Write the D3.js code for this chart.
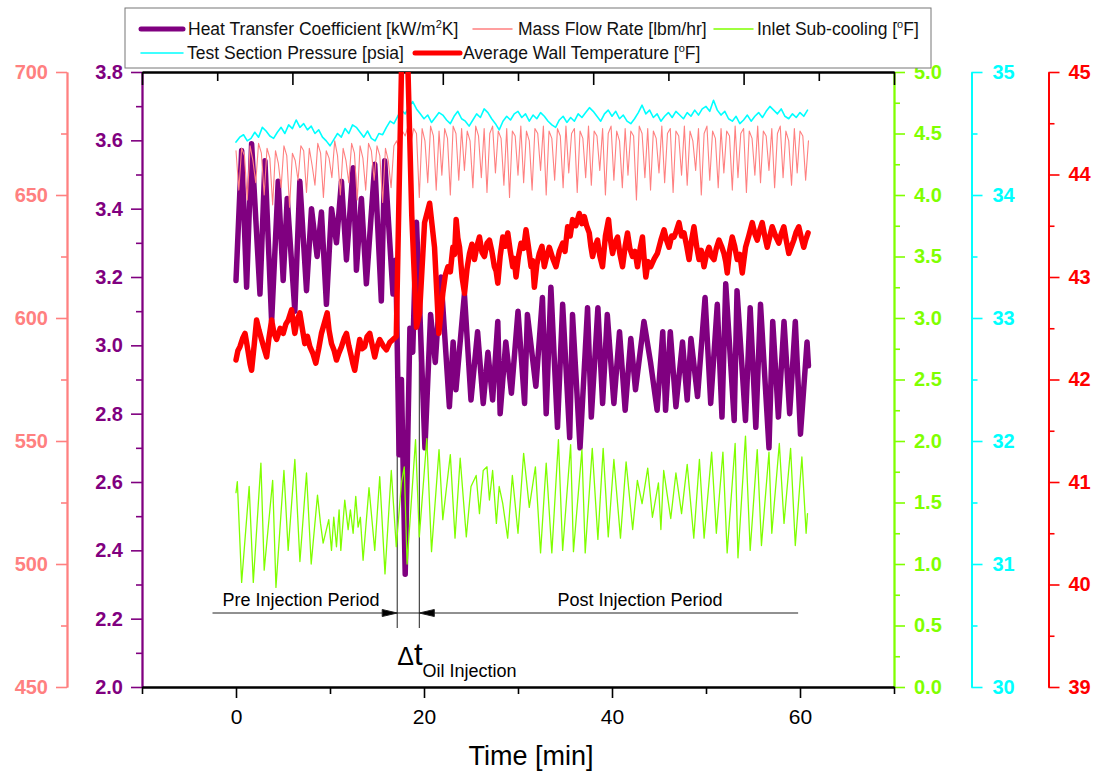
<!DOCTYPE html>
<html>
<head>
<meta charset="utf-8">
<script src="https://cdn.jsdelivr.net/npm/d3@7"></script>
<style>
  body { margin: 0; background: #fff; }
  text { font-family: 'Liberation Sans', Arial, sans-serif; }
</style>
</head>
<body>
<svg id="viz"></svg>
<script>
// Heat transfer coefficient [kW/m2K], read at peaks and troughs
const htcTime = [0, 0.6, 1.13, 1.66, 2.55, 3.08, 3.79, 4.49, 5.02, 5.45, 6.26, 6.79, 7.5, 8.03, 8.63, 9.09, 9.62, 10.16, 10.69, 11.22,
  11.75, 12.46, 12.81, 13.34, 13.87, 14.76, 15.46, 15.82, 16.7, 17.0, 17.35, 17.6, 18.0, 18.5, 18.8, 19.2, 20.1, 20.7, 21.2, 21.8,
  22.7, 23.1, 23.4, 24.3, 25.0, 25.7, 26.3, 26.8, 27.3, 27.85, 28.1, 28.7, 29.3, 30.0, 30.7, 31.0, 31.9, 32.6, 33.0, 33.5,
  34.2, 34.75, 35.5, 35.8, 36.6, 37.4, 37.8, 38.5, 39.0, 39.5, 40.2, 40.8, 41.4, 42.0, 42.5, 43.4, 44.1, 44.8, 45.4, 45.7,
  46.2, 46.8, 47.5, 48.0, 48.4, 49.1, 49.9, 50.5, 51.2, 51.7, 52.1, 53.0, 53.3, 54.2, 54.7, 55.3, 55.8, 56.7, 57.1, 57.7,
  58.3, 58.9, 59.5, 60.05, 60.75, 60.9]
const htcValue = [3.19, 3.57, 3.17, 3.59, 3.15, 3.54, 3.07, 3.48, 3.19, 3.43, 3.10, 3.48, 3.16, 3.40, 3.26, 3.39, 3.12, 3.40, 3.30, 3.48,
  3.25, 3.52, 3.22, 3.43, 3.18, 3.53, 3.13, 3.54, 3.15, 3.25, 2.68, 2.90, 2.33, 3.05, 2.98, 3.36, 2.70, 3.09, 2.95, 3.20,
  2.82, 3.01, 2.87, 3.15, 2.84, 3.04, 2.83, 2.98, 2.84, 3.07, 2.80, 3.01, 2.86, 3.10, 2.83, 3.09, 2.88, 3.14, 2.80, 3.17,
  2.76, 3.12, 2.73, 3.09, 2.70, 3.11, 2.79, 3.11, 2.83, 3.09, 2.83, 3.04, 2.81, 3.02, 2.87, 3.07, 2.95, 2.81, 3.04, 2.81,
  3.04, 2.82, 3.01, 2.84, 3.02, 2.85, 3.14, 2.83, 3.12, 2.79, 3.18, 2.78, 3.16, 2.78, 3.11, 2.76, 3.12, 2.70, 3.07, 2.79,
  3.07, 2.80, 3.07, 2.74, 3.01, 2.94]

// Mass flow rate [lbm/hr], one reading every 0.3 min
const flowStep = 0.3
const flowValue = [668, 652, 669, 666, 648, 670, 664, 655, 671, 667, 650, 669, 665, 646, 668, 663, 653, 670, 666, 645,
  667, 664, 656, 670, 668, 651, 669, 662, 654, 671, 667, 649, 668, 665, 657, 672, 666, 650, 669, 664,
  655, 671, 667, 648, 670, 665, 652, 671, 668, 656, 670, 666, 647, 669, 664, 653, 670,
  672, 668, 676, 674, 678, 671, 677,
  675, 649, 677, 672, 655, 678, 674, 652, 676, 658, 677, 673, 650, 678, 675, 656, 677, 660, 676, 672,
  653, 678, 674, 657, 677, 651, 675, 678, 659, 676, 673, 654, 677, 649, 676, 674, 658, 678, 655, 676,
  672, 652, 677, 675, 660, 678, 650, 676, 673, 656, 677, 674, 653, 678, 659, 675, 677, 651, 676, 673,
  657, 678, 654, 676, 674, 660, 677, 650, 675, 678, 656, 676, 672, 653, 677, 658, 676, 674, 648, 678,
  675, 657, 677, 652, 676, 673, 659, 678, 655, 675, 677, 651, 676, 674, 658, 678, 654, 676, 672, 660,
  677, 650, 675, 678, 656, 676, 673, 653, 677, 659, 676, 674, 652, 678, 657, 675, 677, 651, 676, 673,
  658, 678, 655, 676, 674, 660, 677, 653, 675, 678, 657, 676, 672, 654, 677, 659, 676, 674, 656, 672]

// Inlet sub-cooling [F], read at peaks and troughs
const subTime = [0, 0.14, 0.6, 1.4, 1.84, 2.65, 3.0, 3.9, 4.25, 5.1, 5.55, 6.26, 6.8, 7.5, 8.0, 8.67, 8.99, 9.27, 9.87, 10.16,
  10.4, 10.69, 10.97, 11.15, 11.57, 11.93, 12.17, 12.46, 12.74, 12.99, 13.23, 13.52, 14.15, 14.76, 15.29, 15.85, 16.52, 17.05, 17.6, 17.9,
  18.2, 19.1, 19.5, 20.3, 20.8, 21.6, 22.0, 22.8, 23.3, 23.85, 24.5, 25.0, 25.55, 25.9, 26.3, 26.7, 26.96, 27.3, 27.7, 28.0,
  28.38, 28.9, 29.4, 30.0, 30.6, 31.2, 31.85, 32.4, 33.0, 33.6, 34.3, 34.75, 35.6, 35.9, 36.8, 37.15, 37.9, 38.5, 39.06, 39.6,
  40.2, 40.9, 41.5, 42.2, 42.7, 43.2, 43.8, 44.3, 44.94, 45.2, 45.5, 45.9, 46.25, 46.8, 47.4, 48.0, 48.7, 49.3, 49.8, 50.6,
  51.1, 51.8, 52.25, 53.1, 53.4, 54.2, 54.7, 55.45, 55.9, 56.7, 57.0, 57.8, 58.3, 59.0, 59.5, 60.2, 60.65, 60.8]
const subValue = [1.58, 1.67, 0.85, 1.63, 0.85, 1.82, 0.95, 1.68, 0.81, 1.76, 1.11, 1.85, 1.02, 1.74, 1.00, 1.56, 1.33, 1.17, 1.36, 1.11,
  1.38, 1.14, 1.44, 1.11, 1.52, 1.28, 1.44, 1.25, 1.55, 1.30, 1.38, 1.03, 1.62, 1.11, 1.71, 0.92, 1.76, 1.14, 1.66, 1.79,
  1.00, 2.01, 1.22, 2.02, 1.10, 1.93, 1.36, 1.89, 1.21, 1.86, 1.22, 1.63, 1.72, 1.41, 1.76, 1.79, 1.52, 1.76, 1.33, 1.63,
  1.49, 1.21, 1.72, 1.25, 1.90, 1.46, 1.79, 1.09, 1.82, 1.09, 2.01, 1.11, 1.97, 1.10, 1.93, 1.09, 1.94, 1.20, 1.94, 1.22,
  1.85, 1.21, 1.83, 1.28, 1.68, 1.49, 1.78, 1.38, 1.66, 1.28, 1.76, 1.55, 1.37, 1.74, 1.41, 1.81, 1.21, 1.85, 1.21, 1.91,
  1.25, 1.91, 1.09, 1.98, 1.05, 2.04, 1.11, 1.93, 1.15, 1.91, 1.25, 1.98, 1.33, 1.94, 1.15, 1.87, 1.25, 1.41]

// Test section pressure [psia], one reading every 0.4 min
const pressStep = 0.4
const pressValue = [34.43, 34.47, 34.49, 34.44, 34.46, 34.51, 34.47, 34.55, 34.52, 34.48,
  34.46, 34.51, 34.55, 34.50, 34.57, 34.54, 34.61, 34.55, 34.58, 34.53,
  34.56, 34.50, 34.53, 34.47, 34.44, 34.40, 34.45, 34.50, 34.47, 34.54,
  34.50, 34.57, 34.55, 34.51, 34.47, 34.52, 34.46, 34.44, 34.50, 34.49,
  34.55, 34.60, 34.58, 34.64, 34.69, 34.66, 34.72, 34.76, 34.70, 34.66,
  34.62, 34.65, 34.59, 34.63, 34.67, 34.65, 34.61, 34.58, 34.64, 34.68,
  34.62, 34.60, 34.56, 34.61, 34.66, 34.63, 34.70, 34.67, 34.62, 34.58,
  34.53, 34.60, 34.64, 34.61, 34.66, 34.68, 34.63, 34.66, 34.60, 34.65,
  34.62, 34.67, 34.64, 34.60, 34.57, 34.55, 34.61, 34.64, 34.59, 34.63,
  34.60, 34.66, 34.63, 34.67, 34.71, 34.68, 34.64, 34.60, 34.66, 34.69,
  34.64, 34.68, 34.62, 34.65, 34.60, 34.58, 34.62, 34.67, 34.73, 34.66,
  34.69, 34.63, 34.66, 34.60, 34.64, 34.67, 34.63, 34.68, 34.65, 34.62,
  34.67, 34.64, 34.69, 34.65, 34.70, 34.72, 34.68, 34.77, 34.69, 34.65,
  34.68, 34.62, 34.60, 34.64, 34.58, 34.61, 34.65, 34.60, 34.64, 34.67,
  34.63, 34.68, 34.72, 34.69, 34.66, 34.70, 34.64, 34.62, 34.66, 34.63,
  34.67, 34.64, 34.69]

// Average wall temperature [F], [time, value]
const tempReadings = [
  [0, 42.19], [0.2, 42.28], [0.42, 42.32], [0.7, 42.40], [0.96, 42.45], [1.15, 42.35], [1.31, 42.26], [1.5, 42.15], [1.66, 42.09], [1.95, 42.35],
  [2.19, 42.58], [2.45, 42.48], [2.72, 42.39], [3.0, 42.30], [3.26, 42.22], [3.5, 42.40], [3.79, 42.58], [4.05, 42.45], [4.32, 42.39], [4.7, 42.50],
  [5.02, 42.45], [5.3, 42.54], [5.56, 42.58], [5.91, 42.68], [6.1, 42.55], [6.26, 42.45], [6.5, 42.58], [6.79, 42.65], [7.05, 42.50], [7.32, 42.35],
  [7.6, 42.42], [7.86, 42.32], [8.2, 42.25], [8.49, 42.16], [8.8, 42.30], [9.09, 42.45], [9.4, 42.55], [9.7, 42.65], [9.9, 42.48], [10.16, 42.35],
  [10.45, 42.28], [10.69, 42.19], [10.95, 42.26], [11.22, 42.32], [11.5, 42.40], [11.75, 42.45], [12.0, 42.33], [12.28, 42.22], [12.45, 42.15], [12.63, 42.09],
  [12.9, 42.25], [13.16, 42.39], [13.4, 42.30], [13.69, 42.32], [13.95, 42.42], [14.23, 42.45], [14.5, 42.33], [14.76, 42.22], [15.0, 42.32], [15.29, 42.39],
  [15.65, 42.33], [16.0, 42.29], [16.35, 42.36], [16.7, 42.39], [17.05, 42.42],
  [17.6, 45.0], [17.85, 45.6], [18.3, 45.0], [18.7, 43.6], [19.2, 42.51], [19.53, 42.65], [20.06, 43.53], [20.6, 43.72], [21.12, 43.29], [21.58, 42.45],
  [22.0, 42.84], [22.27, 43.02], [22.54, 43.10], [22.8, 43.05], [23.07, 43.29], [23.25, 43.22], [23.42, 43.56], [23.6, 43.38], [23.78, 43.29], [24.05, 43.0],
  [24.31, 42.84], [24.58, 43.08], [24.84, 43.23], [25.1, 43.32], [25.37, 43.17], [25.63, 43.30], [25.9, 43.39], [26.17, 43.24], [26.43, 43.20], [26.7, 43.33],
  [26.96, 43.36], [27.22, 43.25], [27.49, 43.10], [27.67, 43.06], [27.85, 42.94], [28.1, 43.20], [28.38, 43.39], [28.65, 43.30], [28.91, 43.43], [29.18, 43.25],
  [29.44, 43.10], [29.6, 43.18], [29.79, 43.00], [30.05, 43.20], [30.32, 43.33], [30.6, 43.28], [30.85, 43.46], [31.1, 43.30], [31.39, 43.10], [31.55, 43.16],
  [31.74, 42.90], [32.0, 43.12], [32.27, 43.23], [32.55, 43.30], [32.8, 43.10], [33.05, 43.20], [33.33, 43.29], [33.7, 43.18], [34.04, 43.10], [34.4, 43.25],
  [34.75, 43.33], [35.0, 43.25], [35.28, 43.49], [35.55, 43.40], [35.81, 43.56], [36.15, 43.50], [36.52, 43.62], [36.8, 43.52], [37.05, 43.59], [37.3, 43.50],
  [37.58, 43.43], [37.75, 43.30], [37.93, 43.20], [38.2, 43.30], [38.46, 43.36], [38.72, 43.20], [38.99, 43.10], [39.3, 43.40], [39.63, 43.56], [39.85, 43.35],
  [40.06, 43.23], [40.3, 43.33], [40.59, 43.39], [40.85, 43.22], [41.12, 43.10], [41.4, 43.30], [41.65, 43.43], [41.9, 43.28], [42.18, 43.20], [42.45, 43.25],
  [42.71, 43.10], [43.0, 43.28], [43.24, 43.39], [43.4, 43.20], [43.6, 43.00], [43.85, 43.15], [44.12, 43.10], [44.5, 43.18], [44.83, 43.23], [45.2, 43.36],
  [45.54, 43.46], [45.8, 43.36], [46.07, 43.29], [46.35, 43.40], [46.6, 43.39], [46.85, 43.45], [47.13, 43.53], [47.4, 43.40], [47.66, 43.43], [47.95, 43.30],
  [48.2, 43.17], [48.45, 43.35], [48.72, 43.49], [49.0, 43.30], [49.26, 43.17], [49.5, 43.26], [49.79, 43.10], [50.05, 43.22], [50.32, 43.29], [50.6, 43.20],
  [50.85, 43.17], [51.1, 43.28], [51.38, 43.36], [51.65, 43.30], [51.91, 43.23], [52.1, 43.15], [52.26, 43.04], [52.5, 43.25], [52.79, 43.39], [53.05, 43.30],
  [53.32, 43.17], [53.6, 43.22], [53.86, 43.04], [54.05, 43.18], [54.21, 43.29], [54.55, 43.40], [54.92, 43.53], [55.2, 43.42], [55.45, 43.36], [55.7, 43.45],
  [55.98, 43.53], [56.25, 43.40], [56.51, 43.29], [56.8, 43.40], [57.04, 43.49], [57.4, 43.40], [57.75, 43.33], [58.0, 43.42], [58.28, 43.49], [58.55, 43.35],
  [58.81, 43.23], [59.1, 43.30], [59.34, 43.36], [59.6, 43.44], [59.87, 43.49], [60.15, 43.38], [60.4, 43.29], [60.6, 43.36], [60.86, 43.43]
]

// injection window [min] and arrow span
const injectionStart = 17.15
const injectionEnd = 19.5
const arrowSpan = [-2.5, 59.8]

const xMajor = [0, 20, 40, 60]
const xMinor = [-10, 10, 30, 50, 70]
const topMajor = [-10, 6, 22, 38, 54, 70]
const topMinor = [-2, 14, 30, 46, 62]

const width = 1093
const height = 774
const plot = { left: 142, right: 894, top: 72, bottom: 687 }

const colors = {
  htc: '#800080',
  flow: '#ff8080',
  sub: '#80ff00',
  press: '#00ffff',
  temp: '#ff0000'
}

const svg = d3.select('#viz').attr('width', width).attr('height', height)

const x = d3.scaleLinear().domain([-10, 70]).range([plot.left, plot.right])
const yHtc = d3.scaleLinear().domain([2.0, 3.8]).range([plot.bottom, plot.top])
const yFlow = d3.scaleLinear().domain([450, 700]).range([plot.bottom, plot.top])
const ySub = d3.scaleLinear().domain([0, 5]).range([plot.bottom, plot.top])
const yPress = d3.scaleLinear().domain([30, 35]).range([plot.bottom, plot.top])
const yTemp = d3.scaleLinear().domain([39, 45]).range([plot.bottom, plot.top])

function steps(a, b, s) {
  return d3.range(Math.round((b - a) / s) + 1).map((i) => +(a + i * s).toFixed(3))
}

function yAxis(scale, xPos, side, major, minor, color, fmt, pad) {
  const make = side === 'left' ? d3.axisLeft : d3.axisRight
  const g = svg.append('g').attr('transform', `translate(${xPos},0)`)
  g.append('g')
    .call(make(scale).tickValues(minor).tickSize(6).tickSizeOuter(0).tickFormat(''))
  g.append('g')
    .call(make(scale).tickValues(major).tickSize(11).tickSizeOuter(0).tickPadding(pad).tickFormat(d3.format(fmt)))
  g.selectAll('.domain').attr('stroke', color).attr('stroke-width', 1.8)
  g.selectAll('.tick line').attr('stroke', color).attr('stroke-width', 1.6)
  g.selectAll('.tick text')
    .attr('fill', color)
    .attr('font-size', 20)
    .attr('font-weight', 'bold')
  return g
}

// y axes
yAxis(yFlow, 67, 'left', steps(450, 700, 50), steps(475, 675, 50), colors.flow, 'd', 8)
yAxis(yHtc, plot.left, 'left', steps(2.0, 3.8, 0.2), steps(2.1, 3.7, 0.2), colors.htc, '.1f', 8)
yAxis(ySub, plot.right, 'right', steps(0, 5, 0.5), steps(0.25, 4.75, 0.5), colors.sub, '.1f', 9)
yAxis(yPress, 971.5, 'right', steps(30, 35, 1), steps(30.5, 34.5, 1), colors.press, 'd', 10)
yAxis(yTemp, 1048.5, 'right', steps(39, 45, 1), steps(39.5, 44.5, 1), colors.temp, 'd', 9)

// bottom axis
const bottomAxis = svg.append('g').attr('transform', `translate(0,${plot.bottom})`)
bottomAxis.append('g').call(d3.axisBottom(x).tickValues(xMinor).tickSize(7).tickSizeOuter(0).tickFormat(''))
bottomAxis.append('g').call(d3.axisBottom(x).tickValues(xMajor).tickSize(11).tickSizeOuter(0).tickPadding(11))
bottomAxis.selectAll('.domain').attr('stroke', '#000').attr('stroke-width', 1.8)
bottomAxis.selectAll('.tick line').attr('stroke', '#000').attr('stroke-width', 1.6)
bottomAxis.selectAll('.tick text').attr('fill', '#000').attr('font-size', 21)

// top frame with inner ticks
const topAxis = svg.append('g').attr('transform', `translate(0,${plot.top})`)
topAxis.append('g').call(d3.axisTop(x).tickValues(topMinor).tickSize(-9).tickSizeOuter(0).tickFormat(''))
topAxis.append('g').call(d3.axisTop(x).tickValues(topMajor).tickSize(-13).tickSizeOuter(0).tickFormat(''))
topAxis.selectAll('.domain').attr('stroke', '#000').attr('stroke-width', 1.8)
topAxis.selectAll('.tick line').attr('stroke', '#000').attr('stroke-width', 1.6)

svg.append('text')
  .attr('x', 531)
  .attr('y', 765)
  .attr('text-anchor', 'middle')
  .attr('font-size', 27)
  .text('Time [min]')

// injection annotation
const annot = svg.append('g').attr('stroke', '#222').attr('stroke-width', 1)
annot.append('line')
  .attr('x1', x(arrowSpan[0])).attr('x2', x(arrowSpan[1]))
  .attr('y1', 613).attr('y2', 613)
;[injectionStart, injectionEnd].forEach((t) => {
  annot.append('line')
    .attr('x1', x(t)).attr('x2', x(t))
    .attr('y1', 300).attr('y2', 628)
})
annot.append('path')
  .attr('d', `M${x(injectionStart)},613 l-15,-3.5 v7 z`)
  .attr('fill', '#000')
annot.append('path')
  .attr('d', `M${x(injectionEnd)},613 l15,-3.5 v7 z`)
  .attr('fill', '#000')

svg.append('text')
  .attr('x', 301).attr('y', 606)
  .attr('text-anchor', 'middle')
  .attr('font-size', 18)
  .text('Pre Injection Period')
svg.append('text')
  .attr('x', 640).attr('y', 606)
  .attr('text-anchor', 'middle')
  .attr('font-size', 18)
  .text('Post Injection Period')

const dt = svg.append('text').attr('x', x(injectionStart)).attr('y', 665)
dt.append('tspan').attr('font-size', 25).text('Δ')
dt.append('tspan').attr('font-size', 31).text('t')
dt.append('tspan').attr('font-size', 18).attr('dy', 12).text('Oil Injection')

// series
svg.append('clipPath').attr('id', 'clip')
  .append('rect')
  .attr('x', plot.left).attr('y', plot.top)
  .attr('width', plot.right - plot.left).attr('height', plot.bottom - plot.top)

const lines = svg.append('g').attr('clip-path', 'url(#clip)').attr('fill', 'none')
  .attr('stroke-linejoin', 'round').attr('stroke-linecap', 'round')

const series = [
  { data: d3.zip(htcTime, htcValue), y: yHtc, color: colors.htc, w: 5.5 },
  { data: flowValue.map((v, i) => [i * flowStep, v]), y: yFlow, color: colors.flow, w: 1.1 },
  { data: d3.zip(subTime, subValue), y: ySub, color: colors.sub, w: 1.3 },
  { data: pressValue.map((v, i) => [i * pressStep, v]), y: yPress, color: colors.press, w: 1.6 },
  { data: tempReadings, y: yTemp, color: colors.temp, w: 5.5 }
]

series.forEach((s) => {
  const line = d3.line().x((d) => x(d[0])).y((d) => s.y(d[1]))
  lines.append('path')
    .attr('d', line(s.data))
    .attr('stroke', s.color)
    .attr('stroke-width', s.w)
})

// legend
const legend = svg.append('g')
legend.append('rect')
  .attr('x', 125).attr('y', 8)
  .attr('width', 806).attr('height', 60)
  .attr('fill', '#fff')
  .attr('stroke', '#777')
  .attr('stroke-width', 1)

const legendItems = [
  { x1: 141, x2: 183, tx: 188, y: 29, color: colors.htc, w: 5, label: ['Heat Transfer Coefficient [kW/m', '2', 'K]'] },
  { x1: 473, x2: 512, tx: 518, y: 29, color: colors.flow, w: 1.5, label: ['Mass Flow Rate [lbm/hr]'] },
  { x1: 714, x2: 753, tx: 757, y: 29, color: colors.sub, w: 1.5, label: ['Inlet Sub-cooling [', 'o', 'F]'] },
  { x1: 141, x2: 183, tx: 187, y: 53, color: colors.press, w: 1.5, label: ['Test Section Pressure [psia]'] },
  { x1: 415, x2: 460, tx: 463, y: 53, color: colors.temp, w: 5, label: ['Average Wall Temperature [', 'o', 'F]'] }
]

legendItems.forEach((d) => {
  legend.append('line')
    .attr('x1', d.x1).attr('x2', d.x2)
    .attr('y1', d.y).attr('y2', d.y)
    .attr('stroke', d.color)
    .attr('stroke-width', d.w)
    .attr('stroke-linecap', 'round')
  const t = legend.append('text')
    .attr('x', d.tx).attr('y', d.y + 6)
    .attr('font-size', 17.5)
    .attr('fill', '#111')
  t.append('tspan').text(d.label[0])
  if (d.label.length > 1) {
    t.append('tspan').attr('font-size', 11).attr('dy', -7).text(d.label[1])
    t.append('tspan').attr('dy', 7).text(d.label[2])
  }
})
</script>
</body>
</html>
